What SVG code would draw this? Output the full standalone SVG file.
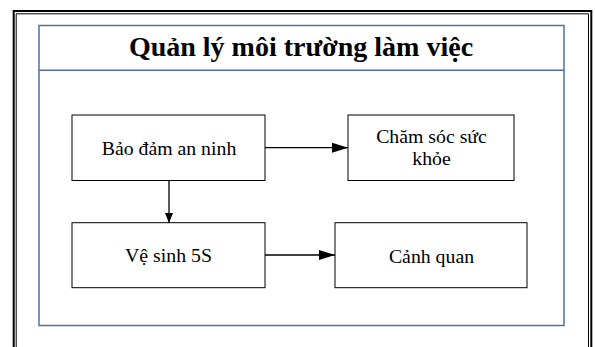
<svg xmlns="http://www.w3.org/2000/svg" width="595" height="347" viewBox="0 0 595 347">
<style>
.frame{fill:none;stroke:#000}
.blue{fill:none;stroke:#4f6fa9;stroke-width:1.5}
.box{fill:#fff;stroke:#000;stroke-width:1}
.lbl{font-family:'Liberation Serif','DejaVu Serif',serif;font-size:19.8px;fill:#000;text-anchor:middle}
.title{font-family:'Liberation Serif','DejaVu Serif',serif;font-size:28px;font-weight:bold;fill:#000;text-anchor:middle}
.conn{stroke:#000;stroke-width:1.3;fill:none}
</style>
<defs>
<marker id="ah" markerUnits="userSpaceOnUse" markerWidth="16" markerHeight="10" refX="16" refY="5" orient="auto">
<path d="M0,0 L16,5 L0,10 Z" fill="#000"/>
</marker>
<marker id="av" markerUnits="userSpaceOnUse" markerWidth="10" markerHeight="8" refX="10" refY="4" orient="auto">
<path d="M0,0 L10,4 L0,8 Z" fill="#000"/>
</marker>
</defs>
<rect width="595" height="347" fill="#fff"/>
<g id="page-frame">
<path class="frame" stroke-width="2" d="M13.7,348 V11 H591.3 V348"/>
<path class="frame" stroke-width="1" d="M16.2,348 V13.8 H588.5 V348"/>
</g>
<g id="container">
<rect class="blue" x="39" y="25.5" width="525" height="300"/>
<line class="blue" x1="39" y1="70.3" x2="564" y2="70.3"/>
<text class="title" x="301" y="56">Quản lý môi trường làm việc</text>
</g>
<g id="connectors">
<line class="conn" x1="265" y1="147.7" x2="348" y2="147.7" marker-end="url(#ah)"/>
<line class="conn" x1="265" y1="255" x2="335" y2="255" marker-end="url(#ah)"/>
<line class="conn" x1="169" y1="180" x2="169" y2="223" marker-end="url(#av)"/>
</g>
<g id="node-bao-dam">
<rect class="box" x="72" y="115" width="193" height="65.5"/>
<text class="lbl" x="169" y="155">Bảo đảm an ninh</text>
</g>
<g id="node-ve-sinh">
<rect class="box" x="72" y="222.7" width="193" height="65"/>
<text class="lbl" x="168.5" y="262">Vệ sinh 5S</text>
</g>
<g id="node-cham-soc">
<rect class="box" x="348" y="115" width="166" height="65.5"/>
<text class="lbl" x="431.5" y="143.3">Chăm sóc sức</text>
<text class="lbl" x="431.5" y="164.5">khỏe</text>
</g>
<g id="node-canh-quan">
<rect class="box" x="335" y="222.7" width="192" height="65"/>
<text class="lbl" x="431.5" y="263">Cảnh quan</text>
</g>
</svg>
